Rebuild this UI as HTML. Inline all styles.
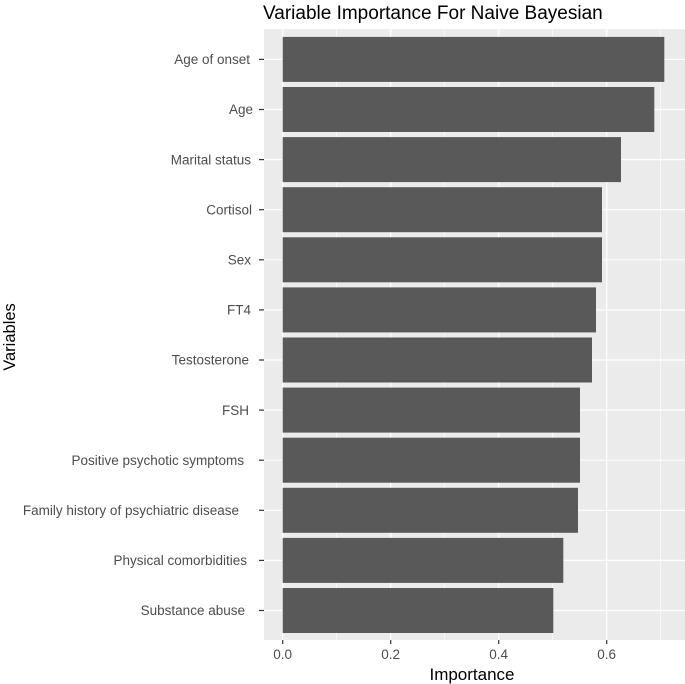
<!DOCTYPE html>
<html><head><meta charset="utf-8"><style>
html,body{margin:0;padding:0;background:#fff;}
svg{display:block;font-family:"Liberation Sans",sans-serif;}
</style></head><body>
<svg width="685" height="684" viewBox="0 0 685 684" xmlns="http://www.w3.org/2000/svg">
<rect x="0" y="0" width="685" height="684" fill="#fff"/>
<text x="263" y="19" font-size="19" fill="#000">Variable Importance For Naive Bayesian</text>
<rect x="264" y="29" width="421" height="611" fill="#ebebeb"/>
<g stroke="#fff" stroke-width="0.6">
<line x1="336.7" y1="29" x2="336.7" y2="640"/>
<line x1="444.7" y1="29" x2="444.7" y2="640"/>
<line x1="552.7" y1="29" x2="552.7" y2="640"/>
<line x1="660.7" y1="29" x2="660.7" y2="640"/>
</g>
<g stroke="#fff" stroke-width="1.2">
<line x1="282.7" y1="29" x2="282.7" y2="640"/>
<line x1="390.7" y1="29" x2="390.7" y2="640"/>
<line x1="498.7" y1="29" x2="498.7" y2="640"/>
<line x1="606.7" y1="29" x2="606.7" y2="640"/>
</g>
<g id="rows"></g>
<g font-size="13.5" fill="#4d4d4d" text-anchor="middle">
<text x="282.7" y="659">0.0</text>
<text x="390.7" y="659">0.2</text>
<text x="498.7" y="659">0.4</text>
<text x="606.7" y="659">0.6</text>
</g>
<g stroke="#333" stroke-width="1.2">
<line x1="282.7" y1="640" x2="282.7" y2="644"/>
<line x1="390.7" y1="640" x2="390.7" y2="644"/>
<line x1="498.7" y1="640" x2="498.7" y2="644"/>
<line x1="606.7" y1="640" x2="606.7" y2="644"/>
</g>
<text x="472" y="680" font-size="17" text-anchor="middle" fill="#000">Importance</text>
<text transform="translate(15,337) rotate(-90)" font-size="16.5" text-anchor="middle" fill="#000">Variables</text>
</svg>
<script>
var names=["Age of onset","Age","Marital status","Cortisol","Sex","FT4","Testosterone","FSH","Positive psychotic symptoms","Family history of psychiatric disease","Physical comorbidities","Substance abuse"];
var ends=[664.3,654.3,621,602,602,596,592,580,580,578,563.3,553.3];
var tx=[250,253,251,252,251,251,249,249,244,239,247,245];
var g=document.getElementById('rows'),s='';
for(var i=0;i<12;i++){var c=59.4+50.1*i;
s+='<line x1="264" x2="685" y1="'+c+'" y2="'+c+'" stroke="#fff" stroke-width="1.2"/>';
s+='<rect x="282.7" y="'+(c-22.5)+'" width="'+(ends[i]-282.7)+'" height="45" fill="#595959"/>';
s+='<line x1="259" x2="264" y1="'+c+'" y2="'+c+'" stroke="#333" stroke-width="1.2"/>';
s+='<text x="'+tx[i]+'" y="'+(c+4.7)+'" font-size="13.5" fill="#4d4d4d" text-anchor="end">'+names[i]+'</text>';}
g.innerHTML=s;
</script>
</body></html>
